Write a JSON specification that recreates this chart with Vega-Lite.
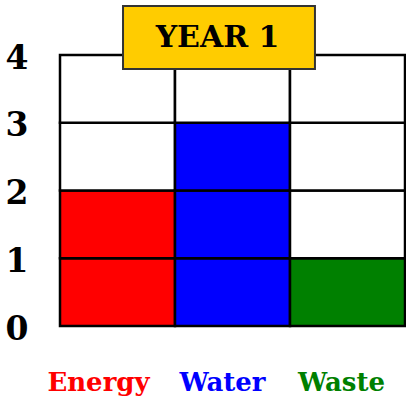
{
  "$schema": "https://vega.github.io/schema/vega-lite/v6.json",
  "width": 345,
  "height": 271,
  "autosize": {"type": "none"},
  "padding": {"left": 60, "top": 55, "right": 1, "bottom": 76},
  "background": "white",
  "config": {"view": {"stroke": null}},
  "data": {
    "values": [
      {"category": "Energy", "from": 0, "to": 1, "status": "Energy"},
      {"category": "Energy", "from": 1, "to": 2, "status": "Energy"},
      {"category": "Energy", "from": 2, "to": 3, "status": "empty"},
      {"category": "Energy", "from": 3, "to": 4, "status": "empty"},
      {"category": "Water", "from": 0, "to": 1, "status": "Water"},
      {"category": "Water", "from": 1, "to": 2, "status": "Water"},
      {"category": "Water", "from": 2, "to": 3, "status": "Water"},
      {"category": "Water", "from": 3, "to": 4, "status": "empty"},
      {"category": "Waste", "from": 0, "to": 1, "status": "Waste"},
      {"category": "Waste", "from": 1, "to": 2, "status": "empty"},
      {"category": "Waste", "from": 2, "to": 3, "status": "empty"},
      {"category": "Waste", "from": 3, "to": 4, "status": "empty"}
    ]
  },
  "layer": [
    {
      "mark": {"type": "rect", "stroke": "black", "strokeWidth": 2.5},
      "encoding": {
        "x": {
          "field": "category",
          "type": "nominal",
          "sort": ["Energy", "Water", "Waste"],
          "scale": {"paddingInner": 0, "paddingOuter": 0},
          "axis": {
            "title": null,
            "labelAngle": 0,
            "ticks": false,
            "domain": false,
            "labelFont": "DejaVu Serif",
            "labelFontWeight": "bold",
            "labelFontSize": 26,
            "labelPadding": 43,
            "labelBaseline": "top",
            "labelOffset": {"expr": "datum.value == 'Energy' ? -19 : datum.value == 'Water' ? -10 : -6"},
            "labelColor": {"expr": "datum.value == 'Energy' ? '#ff0000' : datum.value == 'Water' ? '#0000ff' : '#008000'"}
          }
        },
        "y": {
          "field": "from",
          "type": "quantitative",
          "scale": {"domain": [0, 4], "nice": false},
          "axis": {
            "title": null,
            "values": [0, 1, 2, 3, 4],
            "format": "d",
            "grid": false,
            "ticks": false,
            "domain": false,
            "labelFont": "DejaVu Serif",
            "labelFontWeight": "bold",
            "labelFontSize": 33,
            "labelColor": "black",
            "labelPadding": 32,
            "labelBaseline": "middle",
            "labelOffset": 3,
            "labelFlush": false
          }
        },
        "y2": {"field": "to"},
        "color": {
          "field": "status",
          "type": "nominal",
          "scale": {"domain": ["Energy", "Water", "Waste", "empty"], "range": ["#ff0000", "#0000ff", "#008000", "#ffffff"]},
          "legend": null
        }
      }
    },
    {
      "data": {"values": [{"title": "YEAR 1"}]},
      "layer": [
        {
          "mark": {"type": "rect", "fill": "#ffcc00", "stroke": "#333333", "strokeWidth": 2},
          "encoding": {
            "x": {"datum": 0.548, "type": "quantitative", "scale": {"domain": [0, 3], "nice": false}, "axis": null},
            "x2": {"datum": 2.217},
            "y": {"datum": 3.793, "type": "quantitative"},
            "y2": {"datum": 4.723}
          }
        },
        {
          "mark": {"type": "text", "font": "DejaVu Serif", "fontWeight": "bold", "fontSize": 30, "color": "black", "baseline": "middle", "align": "center"},
          "encoding": {
            "x": {"datum": 1.37, "type": "quantitative", "scale": {"domain": [0, 3], "nice": false}, "axis": null},
            "y": {"datum": 4.25, "type": "quantitative"},
            "text": {"field": "title"}
          }
        }
      ]
    }
  ],
  "resolve": {"scale": {"x": "independent"}, "axis": {"x": "independent"}}
}
